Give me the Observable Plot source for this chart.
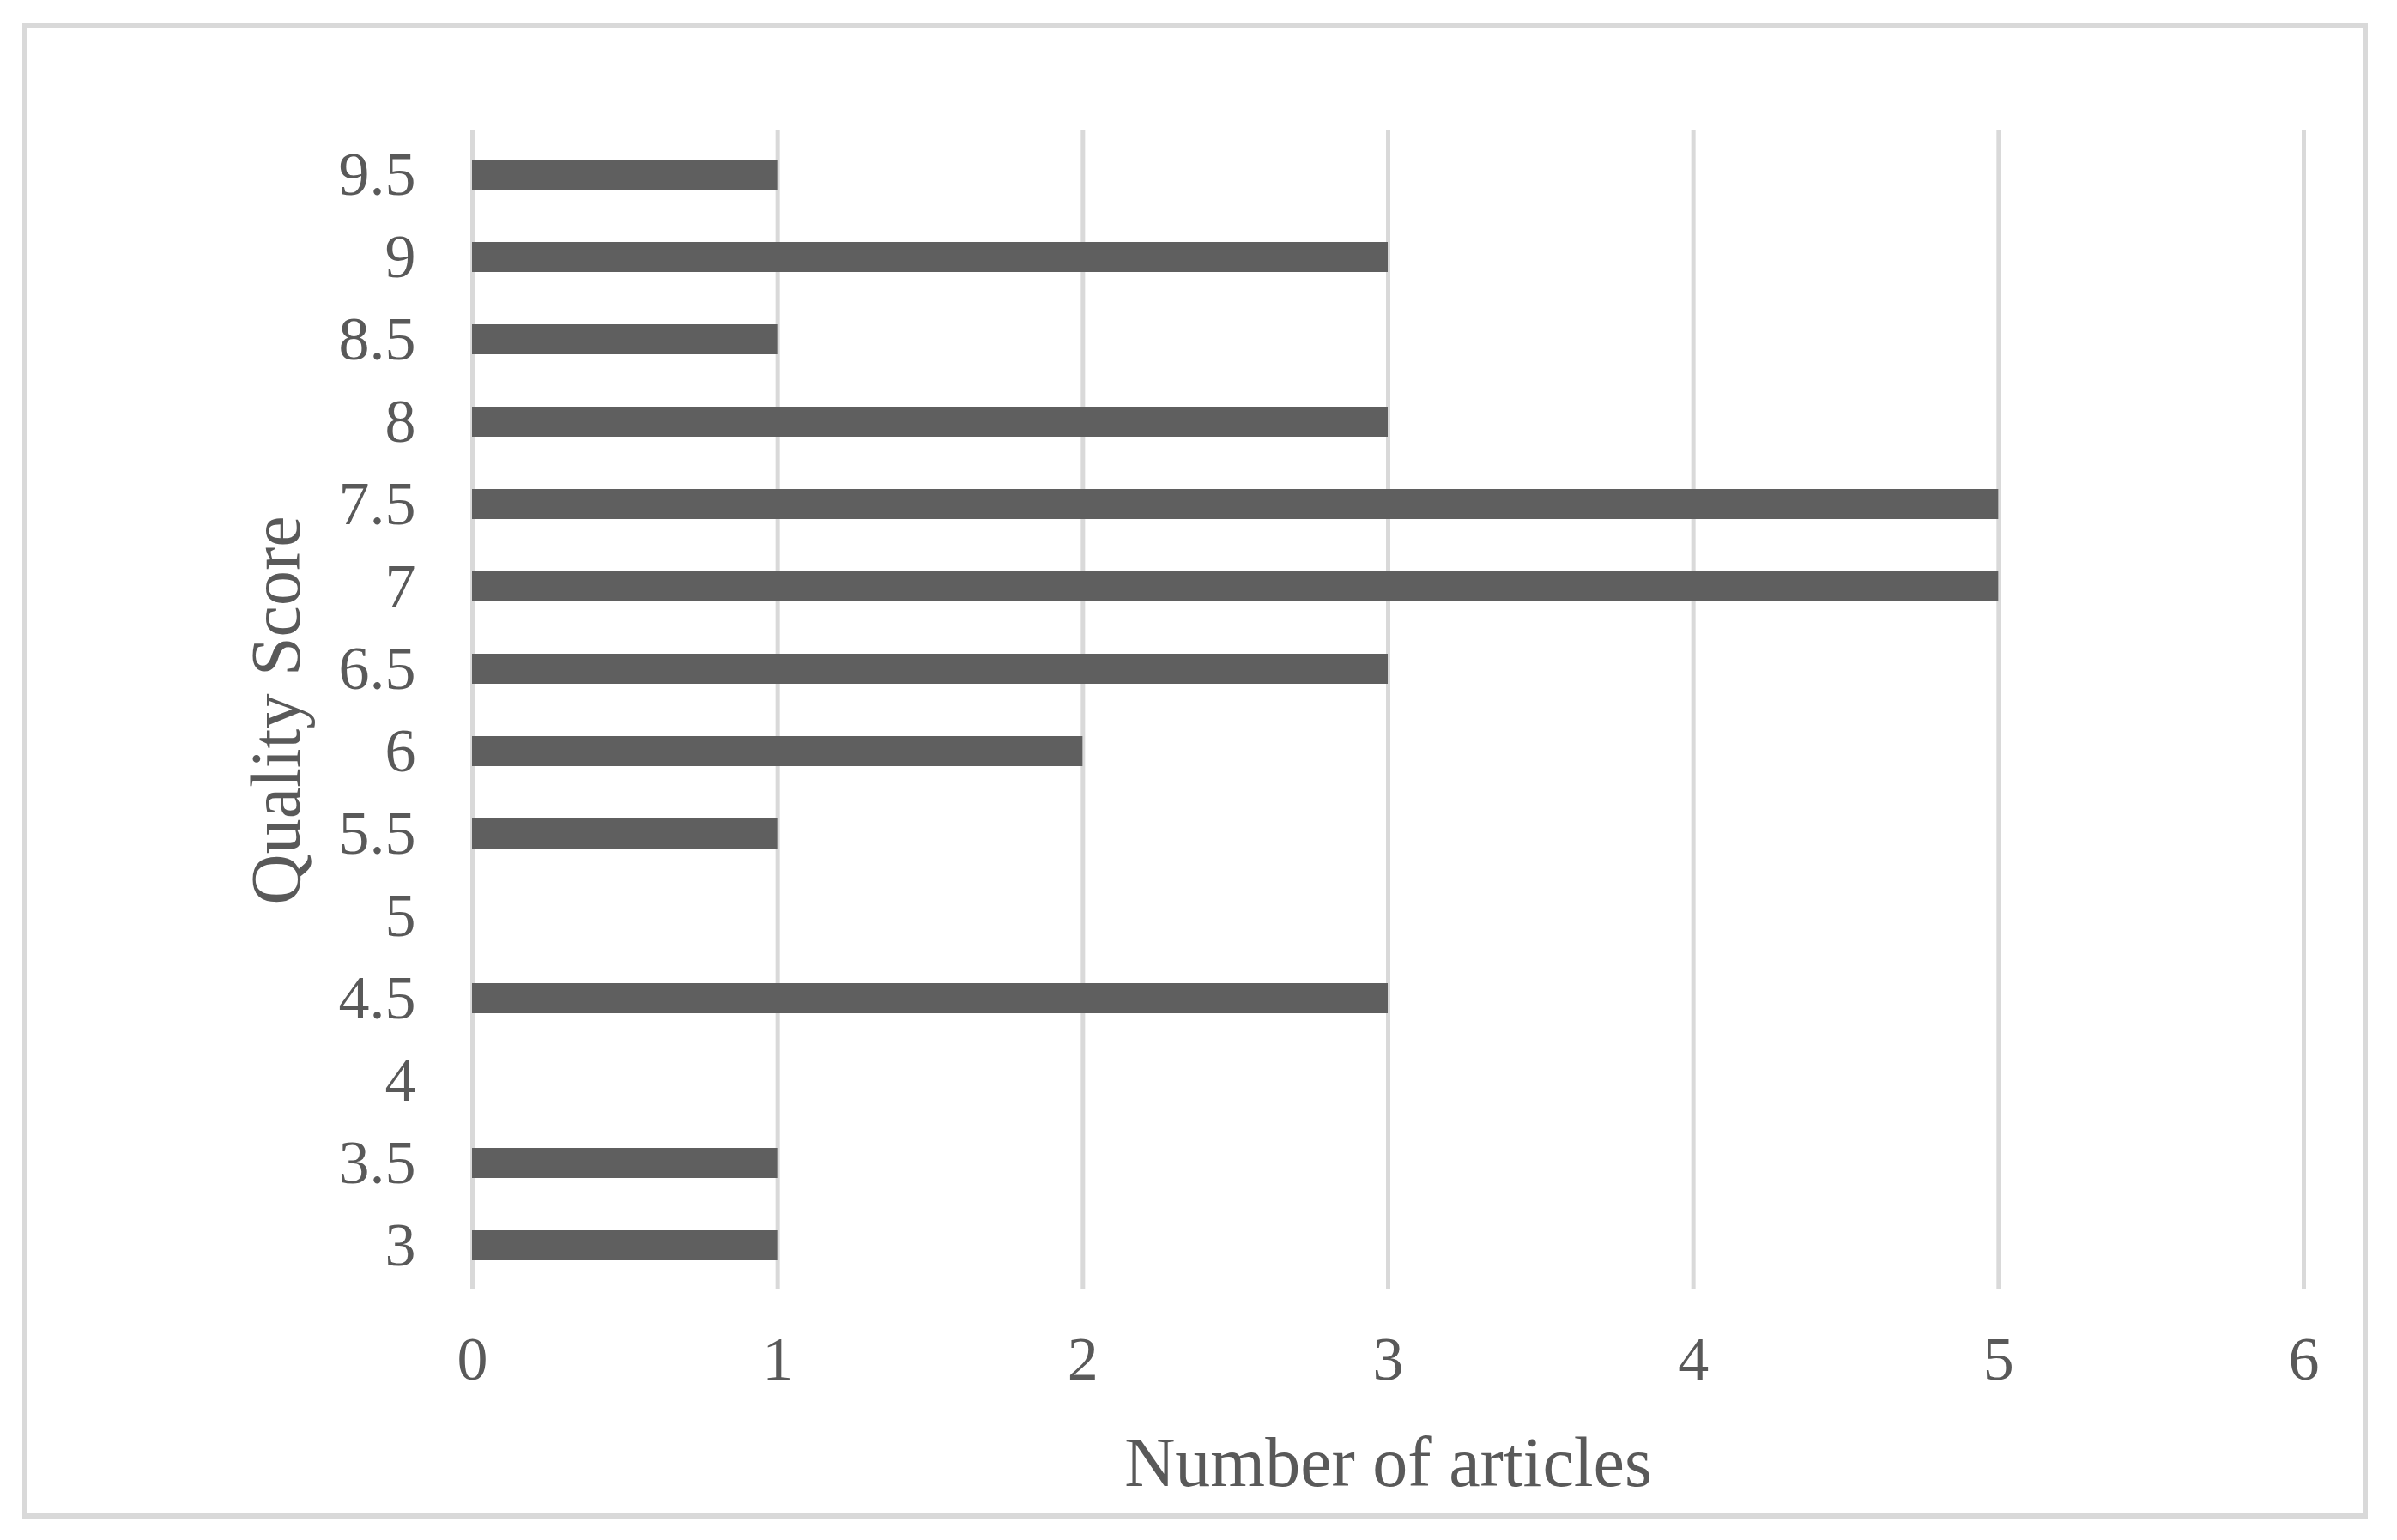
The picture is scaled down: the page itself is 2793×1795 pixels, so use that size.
<!DOCTYPE html>
<html>
<head>
<meta charset="utf-8">
<script src="https://cdn.jsdelivr.net/npm/d3@7"></script>
<script src="https://cdn.jsdelivr.net/npm/@observablehq/plot@0.6"></script>
<style>
  html, body { margin: 0; padding: 0; background: #ffffff; }
  #frame { position: absolute; left: 26px; top: 27px; width: 2733px; height: 1743px; box-sizing: border-box; border: 6px solid #d9d9d9; }
  #chart { position: absolute; left: 0; top: 0; }
</style>
</head>
<body>
<div id="frame"></div>
<div id="chart"></div>
<script>
const scores = ["3", "3.5", "4", "4.5", "5", "5.5", "6", "6.5", "7", "7.5", "8", "8.5", "9", "9.5"];
const counts = [1, 1, 0, 3, 0, 1, 2, 3, 5, 5, 3, 1, 3, 1];
const xTicks = [0, 1, 2, 3, 4, 5, 6];
const xTitle = "Number of articles";
const yTitle = "Quality Score";

const data = scores.map((s, i) => ({score: s, count: counts[i]}));

const chart = Plot.plot({
  width: 2793,
  height: 1795,
  marginLeft: 550,
  marginRight: 109,
  marginTop: 152,
  marginBottom: 292,
  style: {fontFamily: "'Liberation Serif', 'Times New Roman', serif", fontSize: "72px", color: "#595959", background: "transparent"},
  x: {domain: [0, 6]},
  y: {domain: scores.slice().reverse(), paddingInner: 0.64, paddingOuter: 0.32},
  marks: [
    Plot.gridX(xTicks, {stroke: "#d9d9d9", strokeOpacity: 1, strokeWidth: 5}),
    Plot.barX(data, {x: "count", y: "score", fill: "#5f5f5f"}),
    Plot.axisX(xTicks, {tickSize: 0, tickPadding: 53, tickFormat: d3.format("d"), label: null, fill: "#595959", fontSize: 72}),
    Plot.axisY({tickSize: 0, tickPadding: 66, label: yTitle, labelAnchor: "center", labelOffset: 260, fill: "#595959", fontSize: 72}),
    Plot.text([xTitle], {frameAnchor: "bottom", dy: 202, lineAnchor: "middle", fontSize: 82, fill: "#595959"})
  ]
});
// enlarge the y-axis title font to match the axis title size
chart.querySelectorAll("g[aria-label='y-axis label'] text").forEach(t => t.setAttribute("font-size", 82));
document.getElementById("chart").appendChild(chart);
</script>
</body>
</html>
